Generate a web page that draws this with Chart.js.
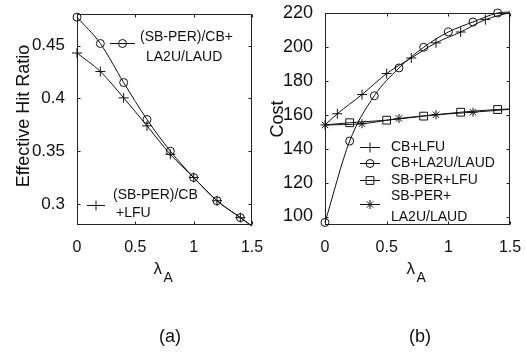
<!DOCTYPE html>
<html>
<head>
<meta charset="utf-8">
<script src="https://cdn.jsdelivr.net/npm/chart.js@4/dist/chart.umd.min.js"></script>
<style>
  html, body { margin: 0; padding: 0; background: #fff; }
  #wrap { position: relative; width: 526px; height: 354px; }
  canvas { position: absolute; top: 0; }
  #ca { left: 0; }
  #cb { left: 263px; }
</style>
</head>
<body>
<div id="wrap">
  <canvas id="ca" width="263" height="354"></canvas>
  <canvas id="cb" width="263" height="354"></canvas>
</div>
<script>
// Tick values
const lambdaTicks = [0, 0.5, 1, 1.5];
const hitTicks = [0.3, 0.35, 0.4, 0.45];
const costTicks = [100, 120, 140, 160, 180, 200, 220];

// (a) effective hit ratio vs lambda_A
const lambdaHit = [0, 0.2, 0.4, 0.6, 0.8, 1.0, 1.2, 1.4, 1.5];
const hitLa2u = [0.477, 0.452, 0.415, 0.380, 0.350, 0.325, 0.303, 0.287, 0.279];
const hitLfu  = [0.443, 0.4255, 0.4005, 0.374, 0.347, 0.325, 0.303, 0.287, 0.279];

// (b) cost vs lambda_A
const lambdaCbLfu  = [0, 0.1, 0.3, 0.5, 0.7, 0.9, 1.1, 1.3, 1.5];
const costCbLfu    = [154, 160.6, 171.9, 184.3, 193.5, 202.4, 208.8, 216.1, 220.3];
const lambdaCbLa2u = [0, 0.2, 0.4, 0.6, 0.8, 1.0, 1.2, 1.4, 1.5];
const costCbLa2u   = [96.5, 144.5, 171.2, 187.6, 199.8, 208.8, 214.7, 220, 220.6];
const lambdaSbLfu  = [0, 0.2, 0.5, 0.8, 1.1, 1.4, 1.5];
const costSbLfu    = [154, 155.3, 156.8, 159.2, 161.5, 163.1, 163.4];
const lambdaSbLa2u = [0, 0.3, 0.6, 0.9, 1.2, 1.5];
const costSbLa2u   = [154, 154.7, 157.8, 160, 161.5, 163.2];

const INK = '#111';
const FONT = '"Liberation Sans", Arial, Helvetica, sans-serif';

function pts(xs, ys) { return xs.map((x, i) => ({ x, y: ys[i] })); }

// Marker shapes follow Chart.js point styles
function marker(ctx, style, r, x, y) {
  if (Chart.helpers && Chart.helpers.drawPoint) {
    ctx.save();
    ctx.strokeStyle = INK; ctx.fillStyle = 'rgba(0,0,0,0)'; ctx.lineWidth = 1;
    Chart.helpers.drawPoint(ctx, { pointStyle: style, radius: r, borderWidth: 1, rotation: 0 }, x, y);
    ctx.restore();
  }
}

function series(label, data, style, r, hideStart) {
  const rad = c => (c.raw.x >= 1.5 || (hideStart && c.raw.x === 0)) ? 0 : r;
  return {
    label, data,
    borderColor: INK, backgroundColor: 'rgba(0,0,0,0)',
    borderWidth: 1, pointStyle: style,
    pointBorderColor: INK, pointBackgroundColor: 'rgba(0,0,0,0)', pointBorderWidth: 1,
    pointRadius: rad, pointHoverRadius: rad,
    cubicInterpolationMode: 'monotone',
    clip: 7
  };
}

// Box, inward ticks, axis titles, in-plot legend and panel caption
function decorations(cfg) {
  return {
    id: 'decorations',
    beforeDatasetsDraw(chart) {
      const { ctx, chartArea: a, scales: { x, y } } = chart;
      const L = Math.round(a.left) + 0.5, R = Math.round(a.right) - 0.5;
      const T = Math.round(a.top) + 0.5, B = Math.round(a.bottom) - 0.5;
      ctx.save();
      ctx.strokeStyle = '#222'; ctx.lineWidth = 1;
      ctx.strokeRect(L, T, R - L, B - T);
      ctx.beginPath();
      const tl = 3;
      x.ticks.forEach(t => {
        const px = Math.round(x.getPixelForValue(t.value)) + 0.5;
        ctx.moveTo(px, B); ctx.lineTo(px, B - tl);
        ctx.moveTo(px, T); ctx.lineTo(px, T + tl);
      });
      y.ticks.forEach(t => {
        const py = Math.round(y.getPixelForValue(t.value)) + 0.5;
        ctx.moveTo(L, py); ctx.lineTo(L + tl, py);
        ctx.moveTo(R, py); ctx.lineTo(R - tl, py);
      });
      ctx.stroke();
      ctx.restore();
    },
    afterDraw(chart) {
      const { ctx, chartArea: a } = chart;
      ctx.save();
      ctx.fillStyle = INK;
      // y-axis title
      ctx.save();
      ctx.translate(cfg.yTitle.x, cfg.yTitle.y);
      ctx.rotate(-Math.PI / 2);
      ctx.font = cfg.yTitle.size + 'px ' + FONT;
      ctx.textAlign = 'center'; ctx.textBaseline = 'middle';
      ctx.fillText(cfg.yTitle.text, 0, 0);
      ctx.restore();
      // x-axis title: lambda with subscript A
      const cx = (a.left + a.right) / 2;
      ctx.textAlign = 'left'; ctx.textBaseline = 'alphabetic';
      ctx.font = '17px ' + FONT;
      ctx.fillText('λ', cx - 11, 273.5);
      ctx.font = '14px ' + FONT;
      ctx.fillText('A', cx - 1, 282);
      // panel caption
      ctx.font = '18px ' + FONT;
      ctx.textAlign = 'center'; ctx.textBaseline = 'middle';
      ctx.fillText(cfg.caption.text, cfg.caption.x, 337);
      // legend
      ctx.font = '14px ' + FONT;
      ctx.textAlign = 'left'; ctx.textBaseline = 'middle';
      cfg.legend.forEach(e => {
        ctx.strokeStyle = INK; ctx.lineWidth = 1;
        ctx.beginPath();
        ctx.moveTo(e.x0, e.y + 0.5); ctx.lineTo(e.x1, e.y + 0.5);
        ctx.stroke();
        marker(ctx, e.style, e.r, (e.x0 + e.x1) / 2, e.y + 0.5);
        ctx.fillStyle = INK;
        e.text.forEach(t => ctx.fillText(t.s, t.x, t.y));
      });
      ctx.restore();
    }
  };
}

function xScale() {
  return {
    type: 'linear', min: 0, max: 1.5,
    afterBuildTicks: s => { s.ticks = lambdaTicks.map(v => ({ value: v })); },
    grid: { display: false }, border: { display: false },
    ticks: { font: { family: FONT, size: 16 }, color: INK, padding: 5, maxRotation: 0,
             callback: v => String(v) },
    afterFit: s => { s.height = 40; s.paddingLeft = 0; s.paddingRight = 0; }
  };
}

function yScale(min, max, vals, size) {
  return {
    type: 'linear', min, max,
    afterBuildTicks: s => { s.ticks = vals.map(v => ({ value: v })); },
    grid: { display: false }, border: { display: false },
    ticks: { font: { family: FONT, size }, color: INK, padding: 4,
             callback: v => String(+v.toFixed(2)) },
    afterFit: s => { s.width = 45; s.paddingTop = 0; s.paddingBottom = 0; }
  };
}

const common = {
  responsive: false, animation: false, events: [],
  plugins: { legend: { display: false }, tooltip: { enabled: false } }
};

new Chart(document.getElementById('ca'), {
  type: 'line',
  data: {
    datasets: [
      series('(SB-PER)/CB+LA2U/LAUD', pts(lambdaHit, hitLa2u), 'circle', 4, false),
      series('(SB-PER)/CB+LFU', pts(lambdaHit, hitLfu), 'cross', 5, false)
    ]
  },
  options: Object.assign({}, common, {
    layout: { padding: { left: 32, right: 11, top: 14, bottom: 89 } },
    scales: { x: xScale(), y: yScale(0.28, 0.48, hitTicks, 17) }
  }),
  plugins: [decorations({
    yTitle: { text: 'Effective Hit Ratio', x: 24, y: 116, size: 18 },
    caption: { text: '(a)', x: 170 },
    legend: [
      { x0: 110, x1: 135, y: 43, style: 'circle', r: 4,
        text: [{ s: '(SB-PER)/CB+', x: 140, y: 37 }, { s: 'LA2U/LAUD', x: 146, y: 57 }] },
      { x0: 87, x1: 105, y: 205, style: 'cross', r: 5,
        text: [{ s: '(SB-PER)/CB', x: 113, y: 195 }, { s: '+LFU', x: 116, y: 213 }] }
    ]
  })]
});

new Chart(document.getElementById('cb'), {
  type: 'line',
  data: {
    datasets: [
      series('CB+LFU', pts(lambdaCbLfu, costCbLfu), 'cross', 5, true),
      series('CB+LA2U/LAUD', pts(lambdaCbLa2u, costCbLa2u), 'circle', 4, false),
      series('SB-PER+LFU', pts(lambdaSbLfu, costSbLfu), 'rect', 5.5, true),
      series('SB-PER+LA2U/LAUD', pts(lambdaSbLa2u, costSbLa2u), 'star', 4.5, false)
    ]
  },
  options: Object.assign({}, common, {
    layout: { padding: { left: 17, right: 16, top: 13, bottom: 89 } },
    scales: { x: xScale(), y: yScale(95, 220, costTicks, 18) }
  }),
  plugins: [decorations({
    yTitle: { text: 'Cost', x: 15, y: 119, size: 18 },
    caption: { text: '(b)', x: 157 },
    legend: [
      { x0: 97, x1: 117, y: 147, style: 'cross', r: 5,
        text: [{ s: 'CB+LFU', x: 128, y: 147 }] },
      { x0: 97, x1: 117, y: 163, style: 'circle', r: 4,
        text: [{ s: 'CB+LA2U/LAUD', x: 128, y: 163 }] },
      { x0: 97, x1: 117, y: 180, style: 'rect', r: 5.5,
        text: [{ s: 'SB-PER+LFU', x: 128, y: 180 }] },
      { x0: 97, x1: 117, y: 204, style: 'star', r: 4.5,
        text: [{ s: 'SB-PER+', x: 128, y: 196 }, { s: 'LA2U/LAUD', x: 128, y: 217 }] }
    ]
  })]
});
</script>
</body>
</html>
